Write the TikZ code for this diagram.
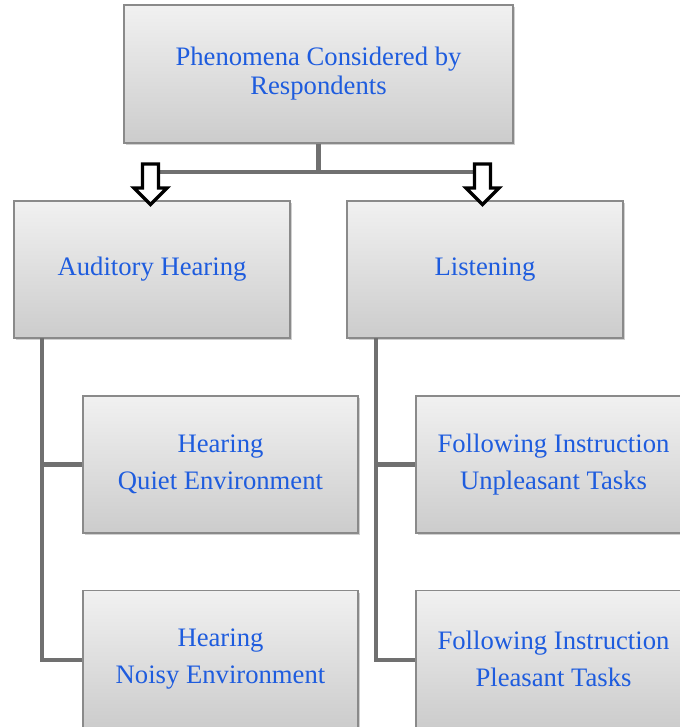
\documentclass[tikz,border=0pt]{standalone}
\usepackage{fontspec}
\setmainfont{Liberation Serif}
\usetikzlibrary{shadows}
\definecolor{txtblue}{RGB}{30,92,222}
\definecolor{boxline}{RGB}{138,138,138}
\definecolor{conncol}{RGB}{112,112,112}
\definecolor{boxtop}{RGB}{241,241,241}
\definecolor{boxbot}{RGB}{204,204,204}
\tikzset{
  boxstyle/.style={draw=boxline, line width=1.1pt, top color=boxtop, bottom color=boxbot,
    drop shadow={shadow xshift=1.6pt, shadow yshift=-1.6pt, opacity=0.3, fill=black!60},
    text=txtblue, align=center, inner sep=0pt, minimum height=102.75pt},
  topfont/.style={font=\fontsize{20}{21.75}\selectfont},
  childfont/.style={font=\fontsize{20}{27.75}\selectfont},
  conn/.style={draw=conncol, line width=3.6pt},
  hollowarrow/.style={draw=black, fill=white, line width=2.6pt, miter limit=10}
}
\begin{document}
\begin{tikzpicture}[x=0.75pt,y=-0.75pt]
\useasboundingbox (0,0) rectangle (680,727);
\clip (0,0) rectangle (680,727);
\fill[white] (0,0) rectangle (680,727);

\coordinate (j) at (318.5,172);
\coordinate (aL) at (150.5,164);
\coordinate (aR) at (482.5,164);

\node[boxstyle, topfont, minimum width=291.75pt, minimum height=103.5pt] (top) at (318.5,74)
  {Phenomena Considered by\\Respondents};
\node[boxstyle, topfont, minimum width=207pt] (AH) at (152,269.5) {Auditory Hearing};
\node[boxstyle, topfont, minimum width=207pt] (L) at (485,269.5) {Listening};

\coordinate (lv) at (42,338);
\coordinate (rv) at (376,338);
\draw[conn] (lv) |- (83,660);
\draw[conn] (lv |- 0,464.5) -- (83,464.5);
\draw[conn] (rv) |- (416,660);
\draw[conn] (rv |- 0,464.5) -- (416,464.5);

\node[boxstyle, childfont, minimum width=206.25pt] (HQ) at (220.5,464.5) {Hearing\\Quiet Environment};
\node[boxstyle, childfont, minimum width=206.25pt] (HN) at (220.5,659) {Hearing\\Noisy Environment};
\node[boxstyle, childfont, minimum width=206.25pt] (FU) at (553.5,464.5) {Following Instruction\\Unpleasant Tasks};
\node[boxstyle, childfont, minimum width=206.25pt] (FP) at (553.5,659) {Following Instruction\\Pleasant Tasks};

\draw[conn] (top.south) -- (j);
\draw[conn, line width=3.4pt] (aL |- j) -- (aR |- j);

% hollow block arrows
\draw[hollowarrow] ([shift={(-8,0)}]aL) -- ([shift={(8,0)}]aL) -- ([shift={(8,24)}]aL) -- ([shift={(16.5,24)}]aL) -- ([shift={(0,40.5)}]aL) -- ([shift={(-16.5,24)}]aL) -- ([shift={(-8,24)}]aL) -- cycle;
\draw[hollowarrow] ([shift={(-8,0)}]aR) -- ([shift={(8,0)}]aR) -- ([shift={(8,24)}]aR) -- ([shift={(16.5,24)}]aR) -- ([shift={(0,40.5)}]aR) -- ([shift={(-16.5,24)}]aR) -- ([shift={(-8,24)}]aR) -- cycle;
\end{tikzpicture}
\end{document}
